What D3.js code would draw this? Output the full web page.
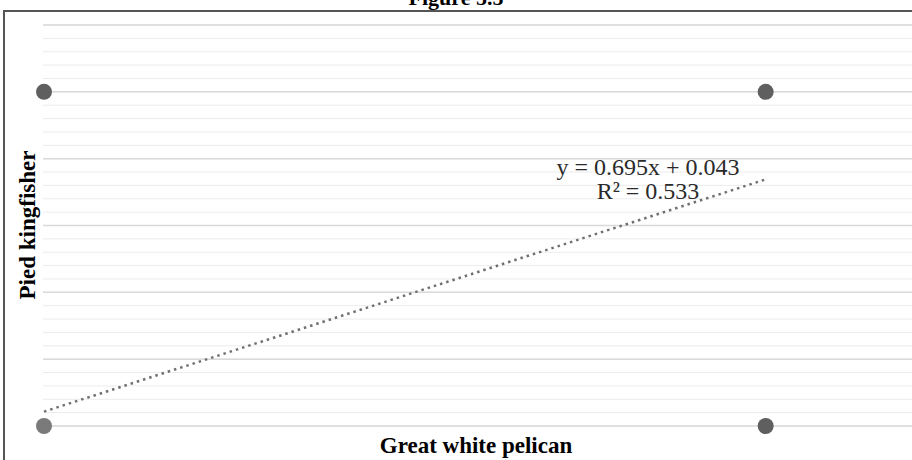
<!DOCTYPE html>
<html lang="en">
  <head>
    <meta charset="UTF-8" />
    <title>Figure 5.5</title>
    <script src="https://cdnjs.cloudflare.com/ajax/libs/d3/7.8.5/d3.min.js"></script>
    <style>
      body { margin: 0; background: #fff; }
      text { font-family: "Liberation Serif", "Times New Roman", serif; }
    </style>
  </head>
  <body>
    <div id="chart"></div>

    <script type="text/javascript">
      // data
      var xValues = [0, 1, 0, 1];
      var yValues = [1, 1, 0, 0];
      var slope = 0.695, intercept = 0.043, r2 = 0.533;
      var xDomain = [0, 1.2];
      var yDomain = [0, 1.2];
      var majorTicks = [0, 0.2, 0.4, 0.6, 0.8, 1.0, 1.2];
      var minorTicks = d3.range(0, 31).map(function (i) { return i * 0.04; });

      var width = 912, height = 460;
      var svg = d3.select("#chart").append("svg")
        .attr("width", width).attr("height", height);

      var x = d3.scaleLinear().domain(xDomain).range([44, 910]);
      var y = d3.scaleLinear().domain(yDomain).range([426, 25]);

      /* title, mostly cut off at the top */
      svg.append("text")
        .attr("x", 456).attr("y", 5)
        .attr("text-anchor", "middle")
        .style("font-size", "22px").style("font-weight", "bold")
        .text("Figure 5.5");

      /* frame */
      svg.append("path")
        .attr("d", "M4,460 V11 H912")
        .attr("fill", "none").attr("stroke", "#555").attr("stroke-width", 2);

      /* gridlines */
      var grid = svg.append("g");
      grid.selectAll("line.minor").data(minorTicks).enter().append("line")
        .attr("class", "minor")
        .attr("x1", 43).attr("x2", width)
        .attr("y1", function (d) { return y(d); })
        .attr("y2", function (d) { return y(d); })
        .attr("stroke", "#ececec").attr("stroke-width", 1);
      grid.selectAll("line.major").data(majorTicks).enter().append("line")
        .attr("class", "major")
        .attr("x1", 43).attr("x2", width)
        .attr("y1", function (d) { return y(d); })
        .attr("y2", function (d) { return y(d); })
        .attr("stroke", "#d9d9d9").attr("stroke-width", 1.5);

      /* trendline */
      var line = d3.line()
        .x(function (d) { return x(d); })
        .y(function (d) { return y(slope * d + intercept); });
      svg.append("path")
        .datum([d3.min(xValues), d3.max(xValues)])
        .attr("d", line)
        .attr("fill", "none")
        .attr("stroke", "#707070")
        .attr("stroke-width", 2.5)
        .attr("stroke-dasharray", "2.5,4");

      /* points */
      svg.selectAll("circle").data(xValues).enter().append("circle")
        .attr("cx", function (d) { return x(d); })
        .attr("cy", function (d, i) { return y(yValues[i]); })
        .attr("r", 8)
        .attr("fill", function (d, i) { return i === 2 ? "#7a7a7a" : "#5f5f5f"; });

      /* equation */
      var eq = svg.append("text")
        .attr("text-anchor", "middle")
        .style("font-size", "24px")
        .attr("fill", "#2a2a2a");
      eq.append("tspan").attr("x", 648).attr("y", 175)
        .text("y = " + slope.toFixed(3) + "x + " + intercept.toFixed(3));
      eq.append("tspan").attr("x", 648).attr("y", 199)
        .text("R² = " + r2.toFixed(3));

      /* axis titles */
      svg.append("text")
        .attr("x", 476).attr("y", 453)
        .attr("text-anchor", "middle")
        .style("font-size", "23px").style("font-weight", "bold")
        .text("Great white pelican");
      svg.append("text")
        .attr("transform", "translate(35,225) rotate(-90)")
        .attr("text-anchor", "middle")
        .style("font-size", "23px").style("font-weight", "bold")
        .text("Pied kingfisher");
    </script>
  </body>
</html>
